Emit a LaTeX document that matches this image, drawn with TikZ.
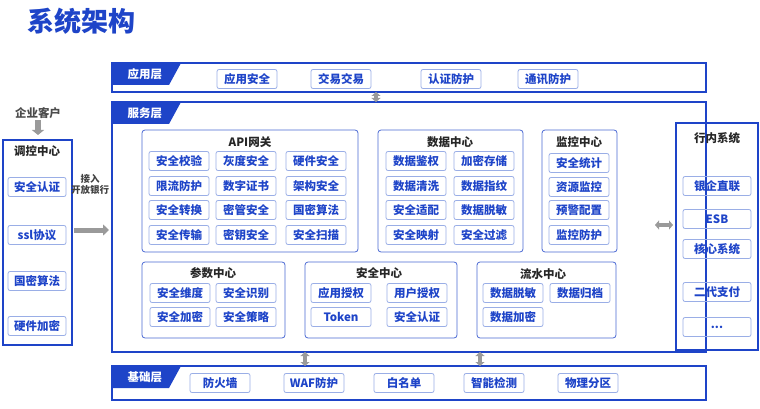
\documentclass[tikz,border=0pt]{standalone}
\usepackage{fontspec}
\setmainfont{Noto Sans CJK SC}
\usetikzlibrary{arrows.meta}
\definecolor{mb}{HTML}{1E44C8}
\definecolor{lb}{HTML}{9AAEE6}
\definecolor{gr}{HTML}{9A9A9A}
\begin{document}
\begin{tikzpicture}[x=1pt,y=-1pt,
 item/.style={draw=lb,rounded corners=2pt,line width=0.8pt,minimum width=60pt,minimum height=19pt,inner sep=1pt,text=mb,font=\fontsize{11.5}{12}\selectfont\bfseries},
 ritem/.style={item,minimum width=68pt},
 grp/.style={draw=mb!80,rounded corners=3pt,line width=0.8pt},
 layer/.style={draw=mb,line width=1.4pt},
 tab/.style={fill=mb},
 tabt/.style={text=white,font=\fontsize{11.5}{12}\selectfont\bfseries,anchor=west},
 ttl/.style={font=\fontsize{11.5}{12}\selectfont\bfseries,text=black!85},
 darr/.style={gr,line width=4pt,{Triangle[length=4pt,width=9pt]}-{Triangle[length=4pt,width=9pt]}},
 sarr/.style={gr,line width=5pt,-{Triangle[length=6pt,width=11pt]}}]
\useasboundingbox (0,0) rectangle (760,409);
\node[anchor=west,text=mb,font=\fontsize{27}{29}\selectfont\bfseries] (title) at (24,21) {系统架构};
% layers
\draw[layer] (112,63) rectangle (706,92);
\fill[tab] (112,63) -- (181,63) -- (169,85) -- (112,85) -- cycle;
\node[tabt] (t1) at (124,74) {应用层};
\draw[layer] (112,102) rectangle (706,352);
\fill[tab] (112,102) -- (181,102) -- (169,124) -- (112,124) -- cycle;
\node[tabt] (t2) at (124,113) {服务层};
\draw[layer] (112,366) rectangle (706,400);
\fill[tab] (112,366) -- (181,366) -- (169,388) -- (112,388) -- cycle;
\node[tabt] (t3) at (124,377) {基础层};
\coordinate (a1) at (376,92); \coordinate (a2) at (376,102);
\draw[darr] (a1) -- (a2);
\coordinate (b1) at (305,352); \coordinate (b2) at (305,366);
\coordinate (c1) at (480,352); \coordinate (c2) at (480,366);
\draw[darr] (b1) -- (b2); \draw[darr] (c1) -- (c2);
% app layer
\node[item] (p1) at (247,79) {应用安全};
\node[item] (p2) at (341,79) {交易交易};
\node[item] (p3) at (451,79) {认证防护};
\node[item] (p4) at (548,79) {通讯防护};
% base layer
\node[item] (f1) at (220,383) {防火墙};
\node[item] (f2) at (314,383) {WAF防护};
\node[item] (f3) at (404,383) {白名单};
\node[item] (f4) at (494,383) {智能检测};
\node[item] (f5) at (588,383) {物理分区};
% API gateway
\draw[grp] (142,130) rectangle (358,252);
\node[ttl] (g0) at (250,142) {API网关};
\node[item] (g1) at (179,161) {安全校验};
\node[item] (g2) at (246,161) {灰度安全};
\node[item] (g3) at (316,161) {硬件安全};
\node[item] (g4) at (179,186) {限流防护};
\node[item] (g5) at (246,186) {数字证书};
\node[item] (g6) at (316,186) {架构安全};
\node[item] (g7) at (179,210) {安全转换};
\node[item] (g8) at (246,210) {密管安全};
\node[item] (g9) at (316,210) {国密算法};
\node[item] (g10) at (179,235) {安全传输};
\node[item] (g11) at (246,235) {密钥安全};
\node[item] (g12) at (316,235) {安全扫描};
% data center
\draw[grp] (378,130) rectangle (523,252);
\node[ttl] (d0) at (450,142) {数据中心};
\node[item] (d1) at (416,161) {数据鉴权};
\node[item] (d2) at (484,161) {加密存储};
\node[item] (d3) at (416,186) {数据清洗};
\node[item] (d4) at (484,186) {数据指纹};
\node[item] (d5) at (416,210) {安全适配};
\node[item] (d6) at (484,210) {数据脱敏};
\node[item] (d7) at (416,235) {安全映射};
\node[item] (d8) at (484,235) {安全过滤};
% monitor
\draw[grp] (542,130) rectangle (617,252);
\node[ttl] (m0) at (579,142) {监控中心};
\node[item] (m1) at (579,163) {安全统计};
\node[item] (m2) at (579,187) {资源监控};
\node[item] (m3) at (579,210) {预警配置};
\node[item] (m4) at (579,235) {监控防护};
% params
\draw[grp] (142,262) rectangle (285,338);
\node[ttl] (q0) at (213,273) {参数中心};
\node[item] (q1) at (180,293) {安全维度};
\node[item] (q2) at (246,293) {安全识别};
\node[item] (q3) at (180,317) {安全加密};
\node[item] (q4) at (246,317) {安全策略};
% security
\draw[grp] (305,262) rectangle (457,338);
\node[ttl] (s0) at (379,273) {安全中心};
\node[item] (s1) at (341,293) {应用授权};
\node[item] (s2) at (417,293) {用户授权};
\node[item] (s3) at (341,317) {Token};
\node[item] (s4) at (417,317) {安全认证};
% flow
\draw[grp] (477,262) rectangle (616,338);
\node[ttl] (w0) at (543,274) {流水中心};
\node[item] (w1) at (513,293) {数据脱敏};
\node[item] (w2) at (580,293) {数据归档};
\node[item] (w3) at (513,317) {数据加密};
% left
\node[ttl,text=black!70] (cust) at (38,113) {企业客户};
\coordinate (l1) at (38,120); \coordinate (l2) at (38,135);
\draw[sarr,line width=6pt,-{Triangle[length=5pt,width=12pt]}] (l1) -- (l2);
\draw[layer,line width=1.2pt] (3,140) rectangle (72,345);
\node[ttl] (k0) at (37,151) {调控中心};
\node[item,minimum width=58pt] (k1) at (37,187) {安全认证};
\node[item,minimum width=58pt] (k2) at (37,235) {ssl协议};
\node[item,minimum width=58pt] (k3) at (37,281) {国密算法};
\node[item,minimum width=58pt] (k4) at (37,326) {硬件加密};
\node[font=\fontsize{9.5}{11}\selectfont\bfseries,text=black!75,align=center] (jr) at (90,184) {接入\\开放银行};
\coordinate (r1) at (74,230); \coordinate (r2) at (109,230);
\draw[sarr] (r1) -- (r2);
% right
\draw[layer,line width=1.2pt] (676,123) rectangle (758,350);
\node[ttl] (h0) at (717,138) {行内系统};
\node[ritem] (h1) at (717,186) {银企直联};
\node[ritem] (h2) at (717,219) {ESB};
\node[ritem] (h3) at (717,249) {核心系统};
\node[ritem] (h4) at (717,292) {二代支付};
\node[ritem] (h5) at (717,327) {...};
\coordinate (e1) at (655,225); \coordinate (e2) at (673,225);
\draw[darr] (e1) -- (e2);
\end{tikzpicture}
\end{document}
